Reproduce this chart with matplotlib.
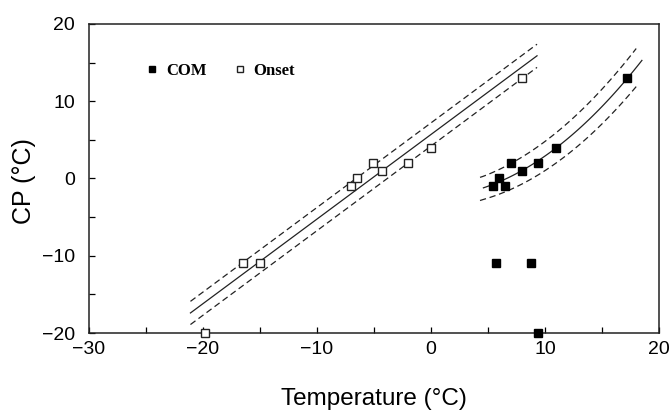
import numpy as np
import matplotlib
matplotlib.use("Agg")
import matplotlib.pyplot as plt
from matplotlib.ticker import MultipleLocator

# ---- data ----
onset_x = [-19.8, -16.5, -15.0, -7.0, -6.5, -5.1, -4.3, -2.0, 0.0, 8.0]
onset_y = [-20, -11, -11, -1, 0, 2, 1, 2, 4, 13]

com_x = [5.4, 6.0, 6.5, 7.0, 8.0, 9.4, 11.0, 17.2, 5.7, 8.8, 9.4]
com_y = [-1, 0, -1, 2, 1, 2, 4, 13, -11, -11, -20]

# Onset linear fit (slope, intercept), x-range and confidence half-width
onset_fit = (1.095, 5.7)
onset_fit_range = (-21.1, 9.3)
onset_band = 1.5

# COM quadratic fit (a, b, c): y = a + b x + c x^2, x-range, band half-widths at ends
com_fit = (-2.42, 0.034, 0.0499)
com_fit_range = (4.6, 18.5)
com_band = (1.5, 2.5)

xticks = [-30, -20, -10, 0, 10, 20]
yticks = [-20, -10, 0, 10, 20]

# ---- figure ----
plt.rcParams['font.family'] = ['Liberation Sans', 'DejaVu Sans']
fig = plt.figure(figsize=(6.71, 4.15), dpi=100)
ax = fig.add_axes([89/671, 1-333/415, (659-89)/671, (333-24)/415])

# Onset fit + band
xo = np.linspace(*onset_fit_range, 50)
yo = onset_fit[0]*xo + onset_fit[1]
ax.plot(xo, yo, color='#222222', lw=0.9)
ax.plot(xo, yo + onset_band, color='#222222', lw=0.9, ls=(0, (5, 3)))
ax.plot(xo, yo - onset_band, color='#222222', lw=0.9, ls=(0, (5, 3)))

# COM fit + band
xc = np.linspace(*com_fit_range, 60)
yc = com_fit[0] + com_fit[1]*xc + com_fit[2]*xc**2
ax.plot(xc, yc, color='#222222', lw=0.9)
xcb = np.linspace(com_fit_range[0]-0.3, com_fit_range[1]-0.5, 60)
ycb = com_fit[0] + com_fit[1]*xcb + com_fit[2]*xcb**2
hwb = np.interp(xcb, com_fit_range, com_band)
ax.plot(xcb, ycb + hwb, color='#222222', lw=0.9, ls=(0, (5, 3)))
ax.plot(xcb, ycb - hwb, color='#222222', lw=0.9, ls=(0, (5, 3)))

# points
ax.plot(com_x, com_y, ls='none', marker='s', ms=6.2, mfc='black', mec='black',
        clip_on=False, zorder=5, label='COM')
ax.plot(onset_x, onset_y, ls='none', marker='s', ms=6.2, mfc='white', mec='#222222',
        mew=1.0, clip_on=False, zorder=5, label='Onset')

ax.set_xlim(-30, 20)
ax.set_ylim(-20, 20)
ax.set_xticks(xticks)
ax.set_yticks(yticks)
ax.set_xticklabels(['\u221230', '\u221220', '\u221210', '0', '10', '20'])
ax.set_yticklabels(['\u221220', '\u221210', '0', '10', '20'])
ax.xaxis.set_minor_locator(MultipleLocator(5))
ax.yaxis.set_minor_locator(MultipleLocator(5))
ax.tick_params(axis='both', which='both', direction='in', labelsize=14,
               top=False, right=False, length=4, width=0.9)
ax.tick_params(axis='x', which='major', pad=6)
ax.tick_params(axis='y', which='major', pad=10)
for s in ax.spines.values():
    s.set_linewidth(1.1)
    s.set_color('#222222')

ax.set_xlabel('Temperature (\u00b0C)', fontsize=17.5, va='center')
ax.xaxis.set_label_coords(374/671, 1-399/415, transform=fig.transFigure)
ax.set_ylabel('CP (\u00b0C)', fontsize=18, va='center')
ax.yaxis.set_label_coords(24/671, 1-181/415, transform=fig.transFigure)

leg = ax.legend(loc='center left', bbox_to_anchor=(0.088, 0.849), ncol=2,
                frameon=False, handlelength=0.8, handletextpad=0.4,
                columnspacing=1.6, borderaxespad=0,
                prop={'family': 'Liberation Serif', 'weight': 'bold', 'size': 12})
for h in leg.legend_handles:
    h.set_markersize(5)

fig.savefig('out.png', dpi=100)
